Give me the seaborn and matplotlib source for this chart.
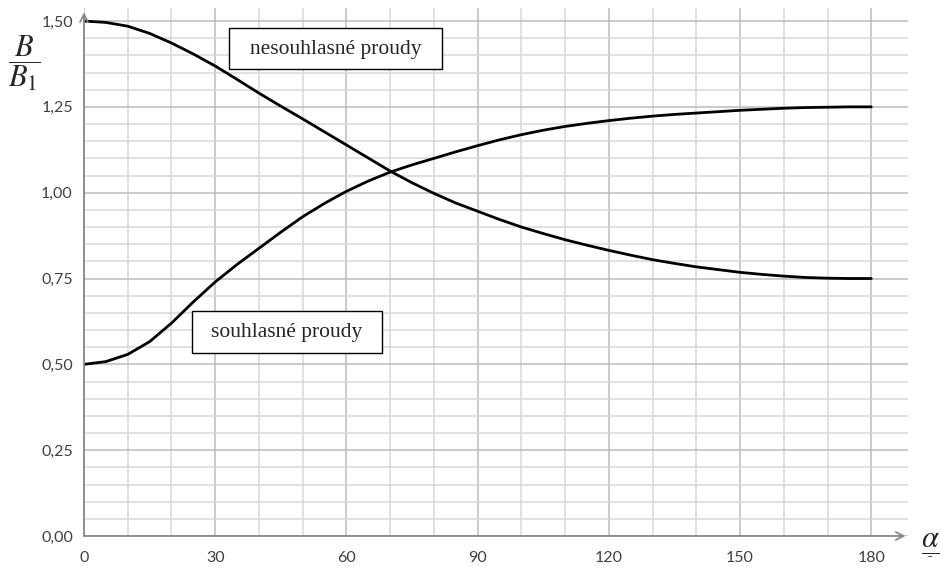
import numpy as np
import pandas as pd
import matplotlib
matplotlib.use("Agg")
import matplotlib.pyplot as plt
from matplotlib.patches import Rectangle
import seaborn as sns

# ==========================================
# Data (every 5 degrees)
# ==========================================
alpha_deg = [0, 5, 10, 15, 20, 25, 30, 35, 40, 45, 50, 55, 60, 65, 70, 75, 80, 85, 90,
             95, 100, 105, 110, 115, 120, 125, 130, 135, 140, 145, 150, 155, 160, 165,
             170, 175, 180]
b_nesouhlasne = [1.500, 1.496, 1.485, 1.464, 1.436, 1.404, 1.369, 1.330, 1.290, 1.252,
                 1.215, 1.177, 1.139, 1.101, 1.063, 1.029, 0.998, 0.970, 0.946,
                 0.922, 0.900, 0.881, 0.863, 0.847, 0.832, 0.818, 0.805, 0.794, 0.784,
                 0.776, 0.768, 0.762, 0.757, 0.753, 0.751, 0.750, 0.750]
b_souhlasne = [0.500, 0.508, 0.529, 0.566, 0.620, 0.682, 0.740, 0.791, 0.838, 0.885,
               0.930, 0.969, 1.004, 1.034, 1.060, 1.081, 1.100, 1.119, 1.137,
               1.154, 1.169, 1.182, 1.193, 1.202, 1.210, 1.217, 1.223, 1.228, 1.232,
               1.236, 1.240, 1.243, 1.246, 1.248, 1.249, 1.250, 1.250]

x_major = [0, 30, 60, 90, 120, 150, 180]
x_labels = ["0", "30", "60", "90", "120", "150", "180"]
y_major = [0.0, 0.25, 0.5, 0.75, 1.0, 1.25, 1.5]
y_labels = ["0,00", "0,25", "0,50", "0,75", "1,00", "1,25", "1,50"]

df = pd.DataFrame({
    "alpha": alpha_deg * 2,
    "B": b_nesouhlasne + b_souhlasne,
    "serie": ["nesouhlasné proudy"] * len(alpha_deg) + ["souhlasné proudy"] * len(alpha_deg),
})

# ==========================================
# Figure
# ==========================================
sns.set_style("white")
plt.rcParams["font.family"] = ["Lato", "DejaVu Sans"]
plt.rcParams["mathtext.fontset"] = "stix"

fig = plt.figure(figsize=(9.4, 5.68), dpi=100)
ax = fig.add_axes([84 / 940, 1 - 536 / 568, (908 - 84) / 940, (536 - 8) / 568])

sns.lineplot(data=df, x="alpha", y="B", hue="serie",
             palette=["black", "black"], linewidth=2.0, legend=False, ax=ax, zorder=4)

ax.set_xlim(0, 188.4)
ax.set_ylim(0, 1.538)

ax.set_xticks(x_major)
ax.set_xticklabels(x_labels)
ax.set_xticks(np.arange(10, 180, 10), minor=True)
ax.set_yticks(y_major)
ax.set_yticklabels(y_labels)
ax.set_yticks(np.arange(0.05, 1.5, 0.05), minor=True)

ax.grid(which="major", color="#bcbcbc", linewidth=1.1, zorder=0)
ax.grid(which="minor", color="#d9d9d9", linewidth=1.1, zorder=0)
ax.set_axisbelow(True)

ax.tick_params(axis="both", which="major", length=5, width=1, color="#888888",
               labelsize=11.5, labelcolor="#404040", direction="out")
ax.tick_params(axis="x", which="major", pad=6)
ax.tick_params(axis="y", which="major", pad=3)
ax.tick_params(axis="both", which="minor", length=0)
ax.set_xlabel("")
ax.set_ylabel("")

for s in ax.spines.values():
    s.set_visible(False)

# axes with arrows
ax.annotate("", xy=(0, 0.992), xytext=(0, 0), xycoords="axes fraction",
            arrowprops=dict(arrowstyle="->", color="#888888", lw=1.3,
                            mutation_scale=14, shrinkA=0, shrinkB=0), zorder=5)
ax.annotate("", xy=(0.997, 0), xytext=(0, 0), xycoords="axes fraction",
            arrowprops=dict(arrowstyle="->", color="#888888", lw=1.3,
                            mutation_scale=14, shrinkA=0, shrinkB=0), zorder=5)

# label boxes
ax.add_patch(Rectangle((33.2, 1.360), 48.7, 0.120, facecolor="white",
                       edgecolor="black", linewidth=1.0, zorder=6))
ax.text(57.5, 1.418, "nesouhlasné proudy", ha="center", va="center",
        fontsize=15.5, family="Liberation Serif", zorder=7)
ax.add_patch(Rectangle((24.7, 0.533), 43.4, 0.122, facecolor="white",
                       edgecolor="black", linewidth=1.0, zorder=6))
ax.text(46.4, 0.592, "souhlasné proudy", ha="center", va="center",
        fontsize=15.5, family="Liberation Serif", zorder=7)

# axis quantity labels as fractions
fig.text(24 / 940, 1 - 63 / 568, r"$\dfrac{B}{B_1}$", ha="center", va="center",
         fontsize=22)
fig.text(930 / 940, 1 - 542 / 568, r"$\dfrac{\alpha}{°}$", ha="center", va="center",
         fontsize=22)

fig.savefig("out.png", dpi=100)
plt.close(fig)
